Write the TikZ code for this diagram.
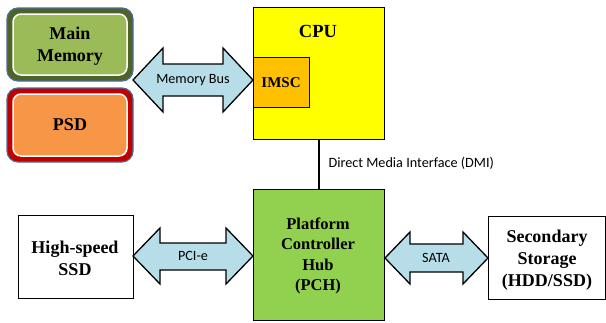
\documentclass[tikz,border=0pt]{standalone}
\usepackage{fontspec}
\setmainfont{Liberation Serif}
\newfontfamily\calib{Carlito}
\definecolor{mmgreen}{HTML}{9BBB59}
\definecolor{mmolive}{HTML}{4F6228}
\definecolor{mmblue}{HTML}{4A6E99}
\definecolor{psdorange}{HTML}{F79646}
\definecolor{psdred}{HTML}{C00000}
\definecolor{cpuyellow}{HTML}{FFFF00}
\definecolor{imscorange}{HTML}{FFC000}
\definecolor{pchgreen}{HTML}{92D050}
\definecolor{buscol}{HTML}{B7DEE8}
\tikzset{
  boxtext/.style={font=\bfseries\fontsize{18}{22}\selectfont, align=center, text=black},
  plainbox/.style={draw=black, line width=1pt, fill=white},
  busarrow/.style={draw=black, line width=1.3pt, fill=buscol, line join=miter},
  buslabel/.style={font=\calib\fontsize{14.2}{16}\selectfont, text=black},
}
\begin{document}
\begin{tikzpicture}[x=1pt,y=-1pt]
\useasboundingbox (0,0) rectangle (606,322);
% Main Memory
\draw[mmblue, line width=1.2pt, fill=mmolive, rounded corners=11pt] (7,8) rectangle (133,81);
\draw[white, line width=1.5pt, fill=mmgreen, rounded corners=8pt] (13,14) rectangle (127,75);
\node[boxtext] (mm) at (70,46) {Main\\Memory};
% PSD
\draw[mmblue, line width=1.2pt, fill=psdred, rounded corners=11pt] (7,88) rectangle (133,162);
\draw[white, line width=1.5pt, fill=psdorange, rounded corners=8pt] (13,94) rectangle (127,156);
\node[boxtext] (psd) at (70,125) {PSD};
% CPU
\draw[black, line width=1pt, fill=cpuyellow] (253,7) rectangle (384,139);
\node[boxtext, font=\bfseries\fontsize{18.5}{22}\selectfont] (cpu) at (318,31) {CPU};
\draw[black, line width=1pt, fill=imscorange] (253,57) rectangle (309,107);
\node[boxtext, font=\bfseries\fontsize{15}{18}\selectfont] (imsc) at (281,83) {IMSC};
% PCH
\draw[black, line width=1pt, fill=pchgreen] (253,189) rectangle (384,320);
\node[boxtext, font=\bfseries\fontsize{16.5}{20.5}\selectfont] (pch) at (318,256) {Platform\\Controller\\Hub\\(PCH)};
% DMI
\coordinate (cpub) at (319,139);
\coordinate (pcht) at (319,189);
\draw[black, line width=1.5pt] (cpub) -- (pcht);
\node[buslabel, anchor=west] (dmi) at (325,163) {Direct Media Interface (DMI)};
% High-speed SSD
\draw[plainbox] (18,215) rectangle (133,298);
\node[boxtext] (hss) at (75,258) {High-speed\\SSD};
% Secondary storage
\draw[plainbox] (488,216) rectangle (605,299);
\node[boxtext] (sec) at (547,260) {Secondary\\Storage\\(HDD/SSD)};
% Memory bus arrow
\draw[busarrow] (133,80) -- (163,48) -- (163,64) -- (223,64) -- (223,48) -- (253,80)
  -- (223,112) -- (223,96) -- (163,96) -- (163,112) -- cycle;
\node[buslabel] (mbus) at (193,80) {Memory Bus};
% PCI-e arrow
\draw[busarrow] (133,256) -- (160,228) -- (160,243) -- (226,243) -- (226,228) -- (253,256)
  -- (226,284) -- (226,270) -- (160,270) -- (160,284) -- cycle;
\node[buslabel] (pcie) at (193,256) {PCI-e};
% SATA arrow
\draw[busarrow] (385,258) -- (410,232) -- (410,244) -- (463,244) -- (463,232) -- (488,258)
  -- (463,284) -- (463,272) -- (410,272) -- (410,284) -- cycle;
\node[buslabel] (sata) at (436,258) {SATA};
\end{tikzpicture}
\end{document}
